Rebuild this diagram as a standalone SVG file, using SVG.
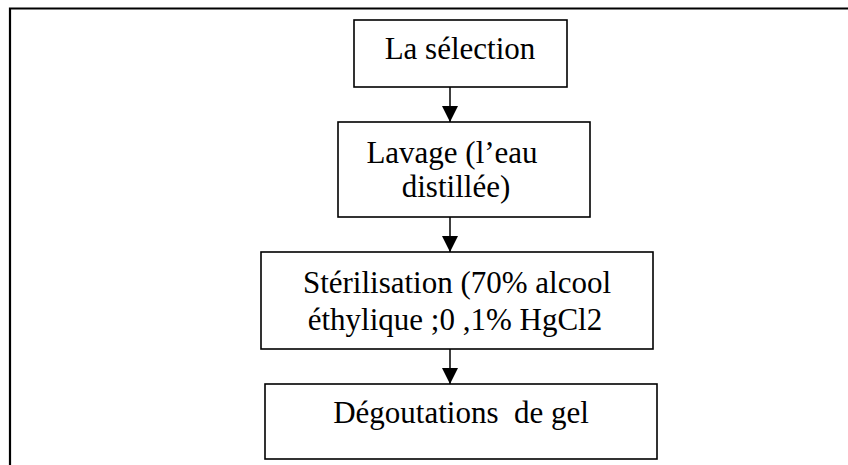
<svg xmlns="http://www.w3.org/2000/svg" width="848" height="465" viewBox="0 0 848 465">
<style>
.box{fill:#fff;stroke:#000;stroke-width:1.6}
.t{font-family:"Liberation Serif","Times New Roman",serif;font-size:31px;fill:#000;text-anchor:middle;white-space:pre}
.conn{stroke:#000;stroke-width:1.5;fill:none}
.frame{stroke:#000;stroke-width:2.2;fill:none}
</style>
<defs>
<marker id="ah" markerUnits="userSpaceOnUse" markerWidth="16" markerHeight="16" viewBox="0 0 16 16" refX="16" refY="8" orient="auto">
<path d="M0,0 L16,8 L0,16 Z" fill="#000"/>
</marker>
</defs>
<rect width="848" height="465" fill="#fff"/>
<path class="frame" d="M10,466 L10,8.5 L849,8.5"/>
<g id="n1">
<rect class="box" x="354" y="20" width="213" height="67"/>
<text class="t" x="460" y="59">La sélection</text>
</g>
<g id="n2">
<rect class="box" x="338" y="122" width="252" height="95"/>
<text class="t" x="452" y="163">Lavage (l’eau</text>
<text class="t" x="456" y="197">distillée)</text>
</g>
<g id="n3">
<rect class="box" x="261" y="252" width="392" height="97"/>
<text class="t" x="457" y="293">Stérilisation (70% alcool</text>
<text class="t" x="455" y="330">éthylique ;0 ,1% HgCl2</text>
</g>
<g id="n4">
<rect class="box" x="265" y="384" width="392" height="75"/>
<text class="t" x="461" y="423">Dégoutations  de gel</text>
</g>
<g id="connectors">
<line class="conn" x1="450" y1="87" x2="450" y2="122" marker-end="url(#ah)"/>
<line class="conn" x1="450" y1="217" x2="450" y2="252" marker-end="url(#ah)"/>
<line class="conn" x1="450" y1="349" x2="450" y2="384" marker-end="url(#ah)"/>
</g>
</svg>
